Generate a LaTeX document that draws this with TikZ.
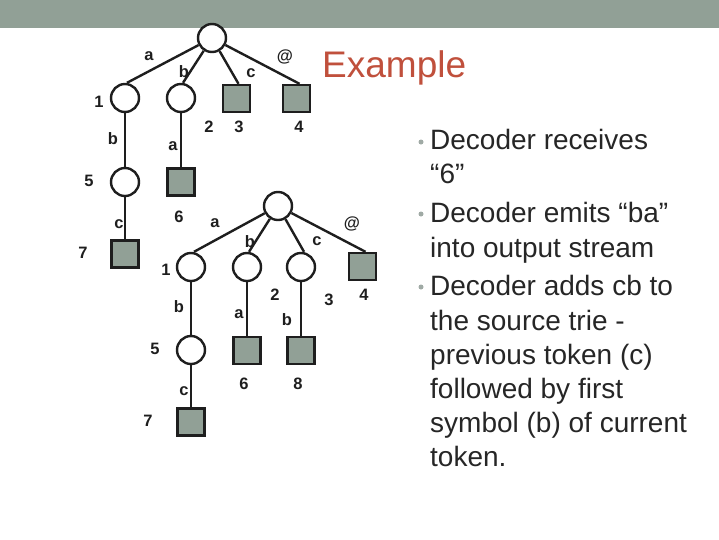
\documentclass[tikz,border=0pt]{standalone}
\usepackage{fontspec}
\setmainfont{Liberation Sans}
\definecolor{band}{RGB}{145,160,150}
\definecolor{sqfill}{RGB}{145,160,150}
\definecolor{ink}{RGB}{30,30,30}
\definecolor{title}{RGB}{192,80,60}
\definecolor{body}{RGB}{38,38,38}
\definecolor{bul}{RGB}{160,170,165}
\begin{document}
\begin{tikzpicture}[x=1pt,y=-1pt,
  circ/.style={circle,draw=ink,line width=2.4pt,fill=white,minimum size=28pt,inner sep=0pt},
  sq/.style={rectangle,draw=ink,line width=2.4pt,fill=sqfill,minimum size=27pt,inner sep=0pt},
  edge/.style={draw=ink,line width=2.4pt},
  lbl/.style={inner sep=0pt,text=ink,font=\fontsize{16.5}{19}\selectfont\bfseries},
  line/.style={anchor=base west,inner sep=0pt,text=body,font=\fontsize{28}{34}\selectfont},
  bullet/.style={circle,fill=bul,inner sep=0pt,minimum size=5pt}]
\useasboundingbox (0,0) rectangle (719,539);
\fill[band] (0,0) rectangle (719,28);

% Tree 1
\node[circ] (r1) at (212,38) {};
\node[circ] (a1) at (125,98) {};
\node[circ] (a2) at (181,98) {};
\node[sq] (a3) at (236.5,98.5) {};
\node[sq] (a4) at (296.5,98.5) {};
\node[circ] (a5) at (125,182) {};
\node[sq] (a6) at (181,182) {};
\node[sq] (a7) at (125,254) {};
\path[edge] (r1) -- ([xshift=2pt]a1.north);
\path[edge] (r1) -- ([xshift=2pt]a2.north);
\path[edge] (r1) -- ([xshift=2pt]a3.north);
\path[edge] (r1) -- ([xshift=3pt]a4.north);
\path[edge] (a1) -- (a5);
\path[edge] (a2) -- (a6);
\path[edge] (a5) -- (a7);
\node[lbl] (t1a) at (149,56) {a};
\node[lbl] (t1b) at (184,72) {b};
\node[lbl] (t1c) at (251,73) {c};
\node[lbl] (t1at) at (285,57) {@};
\node[lbl] (t1n1) at (99,102) {1};
\node[lbl] (t1n2) at (209,127) {2};
\node[lbl] (t1n3) at (239,127) {3};
\node[lbl] (t1n4) at (299,127) {4};
\node[lbl] (t1b2) at (113,139) {b};
\node[lbl] (t1a2) at (173,146) {a};
\node[lbl] (t1n5) at (89,181) {5};
\node[lbl] (t1n6) at (179,217) {6};
\node[lbl] (t1c2) at (119,224) {c};
\node[lbl] (t1n7) at (83,253) {7};

% Tree 2
\node[circ] (r2) at (278,206) {};
\node[circ] (b1) at (191,267) {};
\node[circ] (b2) at (247,267) {};
\node[circ] (b3) at (301,267) {};
\node[sq] (b4) at (362.5,266.5) {};
\node[circ] (b5) at (191,350) {};
\node[sq] (b6) at (247,350.5) {};
\node[sq] (b8) at (301,350.5) {};
\node[sq] (b7) at (191,422) {};
\path[edge] (r2) -- ([xshift=3pt]b1.north);
\path[edge] (r2) -- ([xshift=2pt]b2.north);
\path[edge] (r2) -- ([xshift=3pt]b3.north);
\path[edge] (r2) -- ([xshift=3pt]b4.north);
\path[edge] (b1) -- (b5);
\path[edge] (b2) -- (b6);
\path[edge] (b3) -- (b8);
\path[edge] (b5) -- (b7);
\node[lbl] (t2a) at (215,223) {a};
\node[lbl] (t2b) at (250,242) {b};
\node[lbl] (t2c) at (317,241) {c};
\node[lbl] (t2at) at (352,224) {@};
\node[lbl] (t2n1) at (166,270) {1};
\node[lbl] (t2n2) at (275,295) {2};
\node[lbl] (t2n3) at (329,300) {3};
\node[lbl] (t2n4) at (364,295) {4};
\node[lbl] (t2b2) at (179,307) {b};
\node[lbl] (t2a2) at (239,314) {a};
\node[lbl] (t2b3) at (287,320) {b};
\node[lbl] (t2n5) at (155,349) {5};
\node[lbl] (t2n6) at (244,384) {6};
\node[lbl] (t2n8) at (298,384) {8};
\node[lbl] (t2c2) at (184,391) {c};
\node[lbl] (t2n7) at (148,421) {7};

% Title
\node[anchor=base west,inner sep=0pt,text=title,font=\fontsize{37}{44}\selectfont] (ttl) at (322,77) {Example};

% Bullets
\node[bullet] (d1) at (421,142) {};
\node[bullet] (d2) at (421,214) {};
\node[bullet] (d3) at (421,287) {};
\node[line] (l1) at (430,149) {Decoder receives};
\node[line] (l2) at (430,183) {“6”};
\node[line] (l3) at (430,222) {Decoder emits “ba”};
\node[line] (l4) at (430,257) {into output stream};
\node[line] (l5) at (430,295) {Decoder adds cb to};
\node[line] (l6) at (430,330) {the source trie -};
\node[line] (l7) at (430,364) {previous token (c)};
\node[line] (l8) at (430,398) {followed by first};
\node[line] (l9) at (430,432) {symbol (b) of current};
\node[line] (l10) at (430,466) {token.};
\end{tikzpicture}
\end{document}
